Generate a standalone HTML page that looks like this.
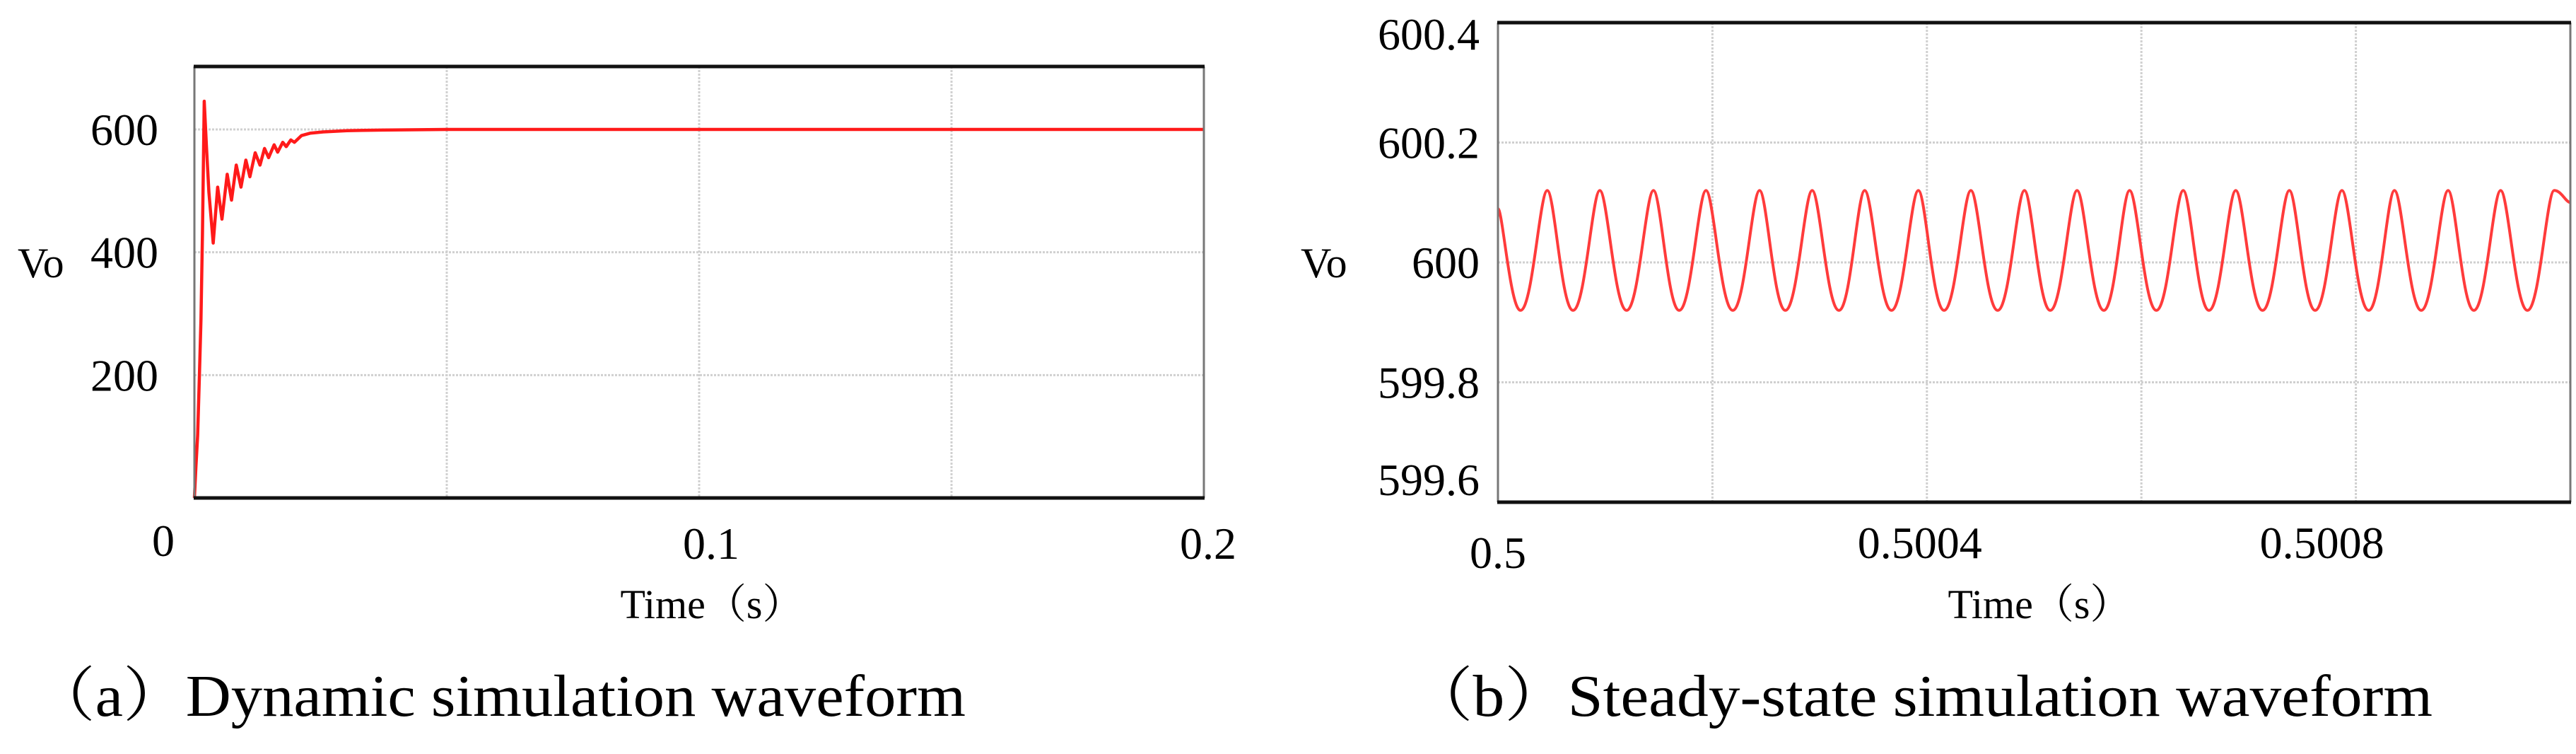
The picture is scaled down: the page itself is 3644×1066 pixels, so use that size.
<!DOCTYPE html>
<html><head><meta charset="utf-8"><style>
html,body{margin:0;padding:0;background:#fff;}
svg{display:block;}
</style></head><body>
<svg id="fig" width="3644" height="1066" viewBox="0 0 3644 1066" xmlns="http://www.w3.org/2000/svg" font-family="Liberation Serif, Noto Serif CJK SC, serif">
<g id="panelA"></g>
<g id="panelB"></g>
</svg>
<script>
// Panel (a) data: time in ms, Vo in volts
const dynTimesMs = [0,0.3,0.65,1.0,1.3,1.6,1.94,2.4,2.87,3.72,4.61,5.46,6.5,7.35,8.29,9.23,10.2,11.0,12.05,13.0,13.9,14.7,15.8,16.5,17.5,18.2,19.1,19.8,21.2,23.0,25.5,30.2,37.2,50,100,200];
const dynValues   = [0,50,102,200,291,430,646,571,498,415,506,454,527,485,542,506,550,523,562,542,569,554,575,563,579,572,583,579,590,594,596,598,599,600,600,600];
const dynXTicks = [0,0.1,0.2];
const dynXTickLabels = ["0","0.1","0.2"];
const dynYTicks = [200,400,600];
const dynYTickLabels = ["200","400","600"];
// Panel (b) data: time offsets in microseconds from 0.5 s, Vo in volts
const ssPeakTimesUs = [46,95,145,194,244,293,342,392,441,491,540,589,639,688,738,787,836,886,935,985];
const ssPeakValues  = [600.12,600.12,600.12,600.12,600.12,600.12,600.12,600.12,600.12,600.12,600.12,600.12,600.12,600.12,600.12,600.12,600.12,600.12,600.12,600.12];
const ssTroughTimesUs = [21,70,120,169,219,268,318,367,416,466,515,565,614,663,713,762,812,861,910,960];
const ssTroughValues  = [599.92,599.92,599.92,599.92,599.92,599.92,599.92,599.92,599.92,599.92,599.92,599.92,599.92,599.92,599.92,599.92,599.92,599.92,599.92,599.92];
const ssStartValue = 600.09;
const ssEndValue = 600.10;
const ssYTicks = [599.6,599.8,600,600.2,600.4];
const ssYTickLabels = ["599.6","599.8","600","600.2","600.4"];
const ssXTicks = [0.5,0.5004,0.5008];
const ssXTickLabels = ["0.5","0.5004","0.5008"];

const NS = "http://www.w3.org/2000/svg";
const FONT = "'Liberation Serif', 'Noto Serif CJK SC', serif";
function mk(tag, attrs, parent){
  const e = document.createElementNS(NS, tag);
  for (const k in attrs) e.setAttribute(k, attrs[k]);
  if (tag === 'text') e.setAttribute('style', 'font-family:' + FONT + ';fill:#000');
  parent.appendChild(e);
  return e;
}

// ---------- Panel A ----------
const A = document.getElementById('panelA');
const aL=275,aR=1703,aT=94,aB=704;
const ax = t => aL + (t/0.2)*(aR-aL);
const ay = v => aB - (v/702.5)*(aB-aT);
[0.05,0.1,0.15].forEach(t=>{
  const g = mk('line',{x1:ax(t),x2:ax(t),y1:aT,y2:aB,stroke:'#d0d0d0','stroke-width':3,'stroke-dasharray':'3 2'},A);
  
  
});
dynYTicks.forEach(v=>{
  const g = mk('line',{x1:aL,x2:aR,y1:ay(v),y2:ay(v),stroke:'#d0d0d0','stroke-width':3,'stroke-dasharray':'3 2'},A);
  
  
});
let dA = '';
dynTimesMs.forEach((t,i)=>{ dA += (i?'L':'M') + ax(t/1000).toFixed(1) + ' ' + ay(dynValues[i]).toFixed(1) + ' '; });
const lineA = mk('path',{d:dA,fill:'none',stroke:'#ff1a1a','stroke-width':4.5,'stroke-linejoin':'round'},A);


const fa1 = mk('line',{x1:aL,x2:aL,y1:aT,y2:aB,stroke:'#777','stroke-width':3},A);


const fa2 = mk('line',{x1:aR,x2:aR,y1:aT,y2:aB,stroke:'#777','stroke-width':3},A);


const fa3 = mk('line',{x1:aL-1,x2:aR+1,y1:aT,y2:aT,stroke:'#111','stroke-width':5},A);


const fa4 = mk('line',{x1:aL-1,x2:aR+1,y1:aB,y2:aB,stroke:'#111','stroke-width':5},A);


dynYTicks.forEach((v,i)=>{
  const t = mk('text',{x:224,y:ay(v)+22,'font-size':64,'text-anchor':'end'},A);
  t.textContent = dynYTickLabels[i];
  
  
});
dynXTicks.forEach((v,i)=>{
  const cx = i===0 ? 231 : ax(v)+ (i===1?17:6);
  const t = mk('text',{x:cx,y:i===0?786:790,'font-size':64,'text-anchor':'middle'},A);
  t.textContent = dynXTickLabels[i];
  
  
});
const ya = mk('text',{x:25,y:392,'font-size':60},A);
ya.textContent = 'Vo';


const xa = mk('text',{x:1007,y:874,'font-size':58,'text-anchor':'middle'},A);
xa.textContent = 'Time（s）';


const ca = mk('text',{x:46,y:1012,'font-size':84,textLength:1320,lengthAdjust:'spacingAndGlyphs'},A);
ca.textContent = '（a）Dynamic simulation waveform';



// ---------- Panel B ----------
const B = document.getElementById('panelB');
const bL=2119,bR=3636,bT=32,bB=710;
const bx = us => bL + (us/1000)*(bR-bL);
const bxs = s => bx((s-0.5)*1e6);
const by = v => bB - ((v-599.6)/0.8)*(bB-bT);
[200,400,600,800].forEach(u=>{
  const g = mk('line',{x1:bx(u),x2:bx(u),y1:bT,y2:bB,stroke:'#d0d0d0','stroke-width':3,'stroke-dasharray':'3 2'},B);
  
  
});
[599.8,600,600.2].forEach(v=>{
  const g = mk('line',{x1:bL,x2:bR,y1:by(v),y2:by(v),stroke:'#d0d0d0','stroke-width':3,'stroke-dasharray':'3 2'},B);
  
  
});
const pts = [[0,ssStartValue,'s']];
for (let i=0;i<ssTroughTimesUs.length;i++){
  pts.push([ssTroughTimesUs[i],ssTroughValues[i],'t']);
  pts.push([ssPeakTimesUs[i],ssPeakValues[i],'p']);
}
pts.push([1000,ssEndValue,'e']);
let dB = 'M'+bx(pts[0][0]).toFixed(1)+' '+by(pts[0][1]).toFixed(1)+' ';
for (let i=1;i<pts.length;i++){
  const [t0,v0,k0]=pts[i-1],[t1,v1,k1]=pts[i];
  const x0=bx(t0),y0=by(v0),x1=bx(t1),y1=by(v1),dx=x1-x0;
  let c1x,c1y,c2x,c2y;
  if (k1==='t'){
    c1x=x0+(k0==='s'?0.2:0.28)*dx; c1y=y0; c2x=x1-0.45*dx; c2y=y1;
  } else {
    c1x=x0+0.45*dx; c1y=y0; c2x=x1-0.28*dx; c2y=y1;
  }
  dB += 'C'+c1x.toFixed(1)+' '+c1y.toFixed(1)+' '+c2x.toFixed(1)+' '+c2y.toFixed(1)+' '+x1.toFixed(1)+' '+y1.toFixed(1)+' ';
}
const lineB = mk('path',{d:dB,fill:'none',stroke:'#ff3b3b','stroke-width':4,'stroke-linejoin':'round'},B);


const fb1 = mk('line',{x1:bL,x2:bL,y1:bT,y2:bB,stroke:'#777','stroke-width':3},B);


const fb2 = mk('line',{x1:bR,x2:bR,y1:bT,y2:bB,stroke:'#777','stroke-width':3},B);


const fb3 = mk('line',{x1:bL-1,x2:bR+1,y1:bT,y2:bT,stroke:'#111','stroke-width':5},B);


const fb4 = mk('line',{x1:bL-1,x2:bR+1,y1:bB,y2:bB,stroke:'#111','stroke-width':5},B);


const ssYOff = [ -10, 22, 22, 22, 38 ];
ssYTicks.forEach((v,i)=>{
  const t = mk('text',{x:2093,y:by(v)+ssYOff[i],'font-size':64,'text-anchor':'end'},B);
  t.textContent = ssYTickLabels[i];
  
  
});
const ssXOff = [0,-10,-48];
ssXTicks.forEach((v,i)=>{
  const t = mk('text',{x:bxs(v)+ssXOff[i],y:i===0?803:789,'font-size':64,'text-anchor':'middle'},B);
  t.textContent = ssXTickLabels[i];
  
  
});
const yb = mk('text',{x:1840,y:392,'font-size':60},B);
yb.textContent = 'Vo';


const xb = mk('text',{x:2885,y:874,'font-size':58,'text-anchor':'middle'},B);
xb.textContent = 'Time（s）';


const cb = mk('text',{x:1994,y:1012,'font-size':84,textLength:1447,lengthAdjust:'spacingAndGlyphs'},B);
cb.textContent = '（b）Steady-state simulation waveform';


</script>
</body></html>
